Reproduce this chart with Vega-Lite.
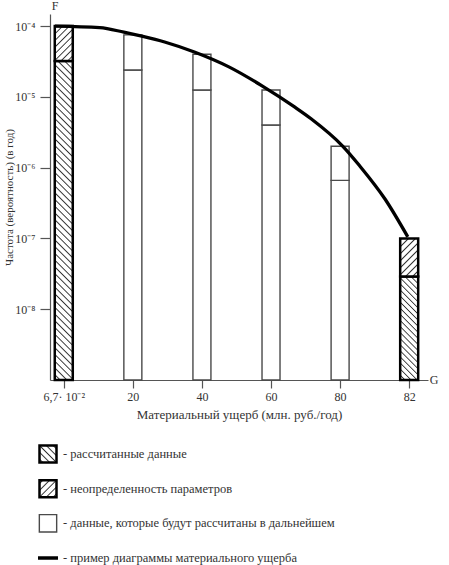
{
"$schema":"https://vega.github.io/schema/vega-lite/v6.json",
"padding":{"left":3,"top":0,"right":5,"bottom":5},
"background":"white",
"config":{"view":{"stroke":null},"font":"Liberation Serif","text":{"font":"Liberation Serif"}},
"datasets":{
"segments":[
{"pos":0,"label":"6,7· 10⁻²","kind":"calc","y0":1e-9,"y1":3.2e-5},
{"pos":0,"label":"6,7· 10⁻²","kind":"uncert","y0":3.2e-5,"y1":1e-4},
{"pos":1,"label":"20","kind":"future","y0":1e-9,"y1":2.4e-5},
{"pos":1,"label":"20","kind":"future","y0":2.4e-5,"y1":7.5e-5},
{"pos":2,"label":"40","kind":"future","y0":1e-9,"y1":1.25e-5},
{"pos":2,"label":"40","kind":"future","y0":1.25e-5,"y1":4.0e-5},
{"pos":3,"label":"60","kind":"future","y0":1e-9,"y1":4.0e-6},
{"pos":3,"label":"60","kind":"future","y0":4.0e-6,"y1":1.25e-5},
{"pos":4,"label":"80","kind":"future","y0":1e-9,"y1":6.6e-7},
{"pos":4,"label":"80","kind":"future","y0":6.6e-7,"y1":2.0e-6},
{"pos":5,"label":"82","kind":"calc","y0":1e-9,"y1":2.9e-8},
{"pos":5,"label":"82","kind":"uncert","y0":2.9e-8,"y1":1.0e-7}
],
"curve":[
{"pos":-0.127,"f":1.0e-4},
{"pos":0.52,"f":9.5e-5},
{"pos":0.87,"f":8.2e-5},
{"pos":1.13,"f":7.2e-5},
{"pos":1.46,"f":5.96e-5},
{"pos":1.89,"f":4.3e-5},
{"pos":2.39,"f":2.65e-5},
{"pos":2.87,"f":1.43e-5},
{"pos":3.34,"f":7.2e-6},
{"pos":3.58,"f":4.9e-6},
{"pos":4.04,"f":2.0e-6},
{"pos":4.28,"f":1.07e-6},
{"pos":4.65,"f":3.6e-7},
{"pos":4.98,"f":1.05e-7}
],
"legend":[
{"item":1,"kind":"calc","text":"- рассчитанные данные"},
{"item":2,"kind":"uncert","text":"- неопределенность параметров"},
{"item":3,"kind":"future","text":"- данные, которые будут рассчитаны в дальнейшем"},
{"item":4,"kind":"line","text":"- пример диаграммы материального ущерба"}
]
},
"spacing":74,
"bounds":"flush",
"vconcat":[
{
"width":378,"height":366,
"layer":[
{
"data":{"name":"segments"},
"transform":[{"filter":"datum.kind=='future'"}],
"mark":{"type":"bar","size":18,"fill":"white","stroke":"#4a4a4a","strokeWidth":1.4},
"encoding":{
"x":{"field":"pos","type":"quantitative","scale":{"domain":[-0.127,5.2],"nice":false,"zero":false},
"axis":{"values":[0,1,2,3,4,5],"labelExpr":"['6,7· 10⁻²','20','40','60','80','82'][datum.value]","title":"Материальный ущерб (млн. руб./год)","grid":false,"tickSize":8,"labelPadding":3,"titlePadding":6,"labelFlush":false,"labelOverlap":false,"labelBound":false,"domainColor":"#555","tickColor":"#555","labelColor":"#333","titleColor":"#333","labelFont":"Liberation Serif","titleFont":"Liberation Serif","labelFontSize":12,"titleFontSize":13,"titleFontWeight":"normal","domainWidth":1.2,"tickWidth":1.2}},
"y":{"field":"y0","type":"quantitative","scale":{"type":"log","domain":[1e-9,1.48e-4],"nice":false},
"axis":{"values":[1e-8,1e-7,1e-6,1e-5,1e-4],"labelExpr":"'10' + ['⁰','⁻¹','⁻²','⁻³','⁻⁴','⁻⁵','⁻⁶','⁻⁷','⁻⁸','⁻⁹'][round(-log(datum.value)/LN10)]","title":"Частота (вероятность) (в год)","grid":false,"tickSize":10,"labelPadding":5,"titlePadding":0,"domainColor":"#555","tickColor":"#555","labelColor":"#333","titleColor":"#333","labelFont":"Liberation Serif","titleFont":"Liberation Serif","labelFontSize":12,"titleFontSize":11,"titleFontWeight":"normal","domainWidth":1.2,"tickWidth":1.2}},
"y2":{"field":"y1"}
}
},
{
"data":{"name":"segments"},
"transform":[{"filter":"datum.kind=='calc' && datum.pos==0"}],
"mark":{"type":"bar","size":18,"stroke":"black","strokeWidth":2.5,
"fill":{"gradient":"linear","x1":1,"y1":0,"x2":0.9406,"y2":1.0531,"stops":[
{"offset":0,"color":"#fff"},{"offset":0.004,"color":"#333"},{"offset":0.008,"color":"#fff"},
{"offset":0.02,"color":"#fff"},{"offset":0.024,"color":"#333"},{"offset":0.028,"color":"#fff"},
{"offset":0.04,"color":"#fff"},{"offset":0.044,"color":"#333"},{"offset":0.048,"color":"#fff"},
{"offset":0.06,"color":"#fff"},{"offset":0.064,"color":"#333"},{"offset":0.068,"color":"#fff"},
{"offset":0.08,"color":"#fff"},{"offset":0.084,"color":"#333"},{"offset":0.088,"color":"#fff"},
{"offset":0.1,"color":"#fff"},{"offset":0.104,"color":"#333"},{"offset":0.108,"color":"#fff"},
{"offset":0.12,"color":"#fff"},{"offset":0.124,"color":"#333"},{"offset":0.128,"color":"#fff"},
{"offset":0.14,"color":"#fff"},{"offset":0.144,"color":"#333"},{"offset":0.148,"color":"#fff"},
{"offset":0.16,"color":"#fff"},{"offset":0.164,"color":"#333"},{"offset":0.168,"color":"#fff"},
{"offset":0.18,"color":"#fff"},{"offset":0.184,"color":"#333"},{"offset":0.188,"color":"#fff"},
{"offset":0.2,"color":"#fff"},{"offset":0.204,"color":"#333"},{"offset":0.208,"color":"#fff"},
{"offset":0.22,"color":"#fff"},{"offset":0.224,"color":"#333"},{"offset":0.228,"color":"#fff"},
{"offset":0.24,"color":"#fff"},{"offset":0.244,"color":"#333"},{"offset":0.248,"color":"#fff"},
{"offset":0.26,"color":"#fff"},{"offset":0.264,"color":"#333"},{"offset":0.268,"color":"#fff"},
{"offset":0.28,"color":"#fff"},{"offset":0.284,"color":"#333"},{"offset":0.288,"color":"#fff"},
{"offset":0.3,"color":"#fff"},{"offset":0.304,"color":"#333"},{"offset":0.308,"color":"#fff"},
{"offset":0.32,"color":"#fff"},{"offset":0.324,"color":"#333"},{"offset":0.328,"color":"#fff"},
{"offset":0.34,"color":"#fff"},{"offset":0.344,"color":"#333"},{"offset":0.348,"color":"#fff"},
{"offset":0.36,"color":"#fff"},{"offset":0.364,"color":"#333"},{"offset":0.368,"color":"#fff"},
{"offset":0.38,"color":"#fff"},{"offset":0.384,"color":"#333"},{"offset":0.388,"color":"#fff"},
{"offset":0.4,"color":"#fff"},{"offset":0.404,"color":"#333"},{"offset":0.408,"color":"#fff"},
{"offset":0.42,"color":"#fff"},{"offset":0.424,"color":"#333"},{"offset":0.428,"color":"#fff"},
{"offset":0.44,"color":"#fff"},{"offset":0.444,"color":"#333"},{"offset":0.448,"color":"#fff"},
{"offset":0.46,"color":"#fff"},{"offset":0.464,"color":"#333"},{"offset":0.468,"color":"#fff"},
{"offset":0.48,"color":"#fff"},{"offset":0.484,"color":"#333"},{"offset":0.488,"color":"#fff"},
{"offset":0.5,"color":"#fff"},{"offset":0.504,"color":"#333"},{"offset":0.508,"color":"#fff"},
{"offset":0.52,"color":"#fff"},{"offset":0.524,"color":"#333"},{"offset":0.528,"color":"#fff"},
{"offset":0.54,"color":"#fff"},{"offset":0.544,"color":"#333"},{"offset":0.548,"color":"#fff"},
{"offset":0.56,"color":"#fff"},{"offset":0.564,"color":"#333"},{"offset":0.568,"color":"#fff"},
{"offset":0.58,"color":"#fff"},{"offset":0.584,"color":"#333"},{"offset":0.588,"color":"#fff"},
{"offset":0.6,"color":"#fff"},{"offset":0.604,"color":"#333"},{"offset":0.608,"color":"#fff"},
{"offset":0.62,"color":"#fff"},{"offset":0.624,"color":"#333"},{"offset":0.628,"color":"#fff"},
{"offset":0.64,"color":"#fff"},{"offset":0.644,"color":"#333"},{"offset":0.648,"color":"#fff"},
{"offset":0.66,"color":"#fff"},{"offset":0.664,"color":"#333"},{"offset":0.668,"color":"#fff"},
{"offset":0.68,"color":"#fff"},{"offset":0.684,"color":"#333"},{"offset":0.688,"color":"#fff"},
{"offset":0.7,"color":"#fff"},{"offset":0.704,"color":"#333"},{"offset":0.708,"color":"#fff"},
{"offset":0.72,"color":"#fff"},{"offset":0.724,"color":"#333"},{"offset":0.728,"color":"#fff"},
{"offset":0.74,"color":"#fff"},{"offset":0.744,"color":"#333"},{"offset":0.748,"color":"#fff"},
{"offset":0.76,"color":"#fff"},{"offset":0.764,"color":"#333"},{"offset":0.768,"color":"#fff"},
{"offset":0.78,"color":"#fff"},{"offset":0.784,"color":"#333"},{"offset":0.788,"color":"#fff"},
{"offset":0.8,"color":"#fff"},{"offset":0.804,"color":"#333"},{"offset":0.808,"color":"#fff"},
{"offset":0.82,"color":"#fff"},{"offset":0.824,"color":"#333"},{"offset":0.828,"color":"#fff"},
{"offset":0.84,"color":"#fff"},{"offset":0.844,"color":"#333"},{"offset":0.848,"color":"#fff"},
{"offset":0.86,"color":"#fff"},{"offset":0.864,"color":"#333"},{"offset":0.868,"color":"#fff"},
{"offset":0.88,"color":"#fff"},{"offset":0.884,"color":"#333"},{"offset":0.888,"color":"#fff"},
{"offset":0.9,"color":"#fff"},{"offset":0.904,"color":"#333"},{"offset":0.908,"color":"#fff"},
{"offset":0.92,"color":"#fff"},{"offset":0.924,"color":"#333"},{"offset":0.928,"color":"#fff"},
{"offset":0.94,"color":"#fff"},{"offset":0.944,"color":"#333"},{"offset":0.948,"color":"#fff"},
{"offset":0.96,"color":"#fff"},{"offset":0.964,"color":"#333"},{"offset":0.968,"color":"#fff"},
{"offset":0.98,"color":"#fff"},{"offset":0.984,"color":"#333"},{"offset":0.988,"color":"#fff"}
]}},
"encoding":{
"x":{"field":"pos","type":"quantitative","scale":{"domain":[-0.127,5.2],"nice":false,"zero":false}},
"y":{"field":"y0","type":"quantitative","scale":{"type":"log","domain":[1e-9,1.48e-4],"nice":false}},
"y2":{"field":"y1"}
}
},
{
"data":{"name":"segments"},
"transform":[{"filter":"datum.kind=='uncert' && datum.pos==0"}],
"mark":{"type":"bar","size":18,"stroke":"black","strokeWidth":2.5,
"fill":{"gradient":"linear","x1":0,"y1":0,"x2":0.6159,"y2":1.1976,"stops":[
{"offset":0,"color":"#fff"},{"offset":0.025,"color":"#333"},{"offset":0.05,"color":"#fff"},
{"offset":0.125,"color":"#fff"},{"offset":0.15,"color":"#333"},{"offset":0.175,"color":"#fff"},
{"offset":0.25,"color":"#fff"},{"offset":0.275,"color":"#333"},{"offset":0.3,"color":"#fff"},
{"offset":0.375,"color":"#fff"},{"offset":0.4,"color":"#333"},{"offset":0.425,"color":"#fff"},
{"offset":0.5,"color":"#fff"},{"offset":0.525,"color":"#333"},{"offset":0.55,"color":"#fff"},
{"offset":0.625,"color":"#fff"},{"offset":0.65,"color":"#333"},{"offset":0.675,"color":"#fff"},
{"offset":0.75,"color":"#fff"},{"offset":0.775,"color":"#333"},{"offset":0.8,"color":"#fff"},
{"offset":0.875,"color":"#fff"},{"offset":0.9,"color":"#333"},{"offset":0.925,"color":"#fff"}
]}},
"encoding":{
"x":{"field":"pos","type":"quantitative","scale":{"domain":[-0.127,5.2],"nice":false,"zero":false}},
"y":{"field":"y0","type":"quantitative","scale":{"type":"log","domain":[1e-9,1.48e-4],"nice":false}},
"y2":{"field":"y1"}
}
},
{
"data":{"name":"segments"},
"transform":[{"filter":"datum.kind=='calc' && datum.pos==5"}],
"mark":{"type":"bar","size":18,"stroke":"black","strokeWidth":2.5,
"fill":{"gradient":"linear","x1":1,"y1":0,"x2":0.8008,"y2":1.1399,"stops":[
{"offset":0,"color":"#fff"},{"offset":0.01,"color":"#333"},{"offset":0.02,"color":"#fff"},
{"offset":0.05,"color":"#fff"},{"offset":0.06,"color":"#333"},{"offset":0.07,"color":"#fff"},
{"offset":0.1,"color":"#fff"},{"offset":0.11,"color":"#333"},{"offset":0.12,"color":"#fff"},
{"offset":0.15,"color":"#fff"},{"offset":0.16,"color":"#333"},{"offset":0.17,"color":"#fff"},
{"offset":0.2,"color":"#fff"},{"offset":0.21,"color":"#333"},{"offset":0.22,"color":"#fff"},
{"offset":0.25,"color":"#fff"},{"offset":0.26,"color":"#333"},{"offset":0.27,"color":"#fff"},
{"offset":0.3,"color":"#fff"},{"offset":0.31,"color":"#333"},{"offset":0.32,"color":"#fff"},
{"offset":0.35,"color":"#fff"},{"offset":0.36,"color":"#333"},{"offset":0.37,"color":"#fff"},
{"offset":0.4,"color":"#fff"},{"offset":0.41,"color":"#333"},{"offset":0.42,"color":"#fff"},
{"offset":0.45,"color":"#fff"},{"offset":0.46,"color":"#333"},{"offset":0.47,"color":"#fff"},
{"offset":0.5,"color":"#fff"},{"offset":0.51,"color":"#333"},{"offset":0.52,"color":"#fff"},
{"offset":0.55,"color":"#fff"},{"offset":0.56,"color":"#333"},{"offset":0.57,"color":"#fff"},
{"offset":0.6,"color":"#fff"},{"offset":0.61,"color":"#333"},{"offset":0.62,"color":"#fff"},
{"offset":0.65,"color":"#fff"},{"offset":0.66,"color":"#333"},{"offset":0.67,"color":"#fff"},
{"offset":0.7,"color":"#fff"},{"offset":0.71,"color":"#333"},{"offset":0.72,"color":"#fff"},
{"offset":0.75,"color":"#fff"},{"offset":0.76,"color":"#333"},{"offset":0.77,"color":"#fff"},
{"offset":0.8,"color":"#fff"},{"offset":0.81,"color":"#333"},{"offset":0.82,"color":"#fff"},
{"offset":0.85,"color":"#fff"},{"offset":0.86,"color":"#333"},{"offset":0.87,"color":"#fff"},
{"offset":0.9,"color":"#fff"},{"offset":0.91,"color":"#333"},{"offset":0.92,"color":"#fff"},
{"offset":0.95,"color":"#fff"},{"offset":0.96,"color":"#333"},{"offset":0.97,"color":"#fff"}
]}},
"encoding":{
"x":{"field":"pos","type":"quantitative","scale":{"domain":[-0.127,5.2],"nice":false,"zero":false}},
"y":{"field":"y0","type":"quantitative","scale":{"type":"log","domain":[1e-9,1.48e-4],"nice":false}},
"y2":{"field":"y1"}
}
},
{
"data":{"name":"segments"},
"transform":[{"filter":"datum.kind=='uncert' && datum.pos==5"}],
"mark":{"type":"bar","size":18,"stroke":"black","strokeWidth":2.5,
"fill":{"gradient":"linear","x1":0,"y1":0,"x2":0.5701,"y2":1.2036,"stops":[
{"offset":0,"color":"#fff"},{"offset":0.025,"color":"#333"},{"offset":0.05,"color":"#fff"},
{"offset":0.125,"color":"#fff"},{"offset":0.15,"color":"#333"},{"offset":0.175,"color":"#fff"},
{"offset":0.25,"color":"#fff"},{"offset":0.275,"color":"#333"},{"offset":0.3,"color":"#fff"},
{"offset":0.375,"color":"#fff"},{"offset":0.4,"color":"#333"},{"offset":0.425,"color":"#fff"},
{"offset":0.5,"color":"#fff"},{"offset":0.525,"color":"#333"},{"offset":0.55,"color":"#fff"},
{"offset":0.625,"color":"#fff"},{"offset":0.65,"color":"#333"},{"offset":0.675,"color":"#fff"},
{"offset":0.75,"color":"#fff"},{"offset":0.775,"color":"#333"},{"offset":0.8,"color":"#fff"},
{"offset":0.875,"color":"#fff"},{"offset":0.9,"color":"#333"},{"offset":0.925,"color":"#fff"}
]}},
"encoding":{
"x":{"field":"pos","type":"quantitative","scale":{"domain":[-0.127,5.2],"nice":false,"zero":false}},
"y":{"field":"y0","type":"quantitative","scale":{"type":"log","domain":[1e-9,1.48e-4],"nice":false}},
"y2":{"field":"y1"}
}
},
{
"data":{"name":"curve"},
"mark":{"type":"line","stroke":"black","strokeWidth":3.3,"interpolate":"monotone"},
"encoding":{
"x":{"field":"pos","type":"quantitative","scale":{"domain":[-0.127,5.2],"nice":false,"zero":false}},
"y":{"field":"f","type":"quantitative","scale":{"type":"log","domain":[1e-9,1.48e-4],"nice":false}}
}
},
{
"data":{"values":[{"t":"G"}]},
"mark":{"type":"text","dx":11,"baseline":"middle","align":"center","fontSize":12,"fill":"#333","font":"Liberation Serif"},
"encoding":{
"text":{"field":"t"},
"x":{"datum":5.2,"type":"quantitative","scale":{"domain":[-0.127,5.2],"nice":false,"zero":false}},
"y":{"datum":1e-9,"type":"quantitative","scale":{"type":"log","domain":[1e-9,1.48e-4],"nice":false}}
}
},
{
"data":{"values":[{"t":"F"}]},
"mark":{"type":"text","dy":-8,"baseline":"middle","align":"center","fontSize":12,"fill":"#333","font":"Liberation Serif"},
"encoding":{
"text":{"field":"t"},
"x":{"datum":-0.127,"type":"quantitative","scale":{"domain":[-0.127,5.2],"nice":false,"zero":false}},
"y":{"datum":1.48e-4,"type":"quantitative","scale":{"type":"log","domain":[1e-9,1.48e-4],"nice":false}}
}
}
]
},
{
"width":378,"height":104,
"data":{"name":"legend"},
"encoding":{"y":{"field":"item","type":"ordinal","scale":{"type":"point","padding":0},"axis":null}},
"layer":[
{
"transform":[{"filter":"datum.kind=='calc'"}],
"mark":{"type":"point","shape":"square","size":289,"filled":true,"opacity":1,"xOffset":-2,"stroke":"black","strokeWidth":2.5,
"fill":{"gradient":"linear","x1":1,"y1":0,"x2":0,"y2":1,"stops":[
{"offset":0.06,"color":"#fff"},{"offset":0.1,"color":"#333"},{"offset":0.14,"color":"#fff"},
{"offset":0.26,"color":"#fff"},{"offset":0.3,"color":"#333"},{"offset":0.34,"color":"#fff"},
{"offset":0.46,"color":"#fff"},{"offset":0.5,"color":"#333"},{"offset":0.54,"color":"#fff"},
{"offset":0.66,"color":"#fff"},{"offset":0.7,"color":"#333"},{"offset":0.74,"color":"#fff"},
{"offset":0.86,"color":"#fff"},{"offset":0.9,"color":"#333"},{"offset":0.94,"color":"#fff"}
]}},
"encoding":{"x":{"datum":0,"type":"quantitative","scale":{"domain":[0,1]},"axis":null}}
},
{
"transform":[{"filter":"datum.kind=='uncert'"}],
"mark":{"type":"point","shape":"square","size":289,"filled":true,"opacity":1,"xOffset":-2,"stroke":"black","strokeWidth":2.5,
"fill":{"gradient":"linear","x1":0,"y1":0,"x2":1,"y2":1,"stops":[
{"offset":0.06,"color":"#fff"},{"offset":0.1,"color":"#333"},{"offset":0.14,"color":"#fff"},
{"offset":0.26,"color":"#fff"},{"offset":0.3,"color":"#333"},{"offset":0.34,"color":"#fff"},
{"offset":0.46,"color":"#fff"},{"offset":0.5,"color":"#333"},{"offset":0.54,"color":"#fff"},
{"offset":0.66,"color":"#fff"},{"offset":0.7,"color":"#333"},{"offset":0.74,"color":"#fff"},
{"offset":0.86,"color":"#fff"},{"offset":0.9,"color":"#333"},{"offset":0.94,"color":"#fff"}
]}},
"encoding":{"x":{"datum":0,"type":"quantitative","scale":{"domain":[0,1]},"axis":null}}
},
{
"transform":[{"filter":"datum.kind=='future'"}],
"mark":{"type":"point","shape":"square","size":300,"filled":true,"opacity":1,"xOffset":-2,"fill":"white","stroke":"#4a4a4a","strokeWidth":1.4},
"encoding":{"x":{"datum":0,"type":"quantitative","scale":{"domain":[0,1]},"axis":null}}
},
{
"transform":[{"filter":"datum.kind=='line'"}],
"mark":{"type":"point","shape":"stroke","size":400,"opacity":1,"xOffset":-2,"stroke":"black","strokeWidth":3.5},
"encoding":{"x":{"datum":0,"type":"quantitative","scale":{"domain":[0,1]},"axis":null}}
},
{
"mark":{"type":"text","align":"left","baseline":"middle","dx":13,"fontSize":12.5,"fill":"#333","font":"Liberation Serif"},
"encoding":{"text":{"field":"text"},"x":{"datum":0,"type":"quantitative","scale":{"domain":[0,1]},"axis":null}}
}
]
}
]
}
